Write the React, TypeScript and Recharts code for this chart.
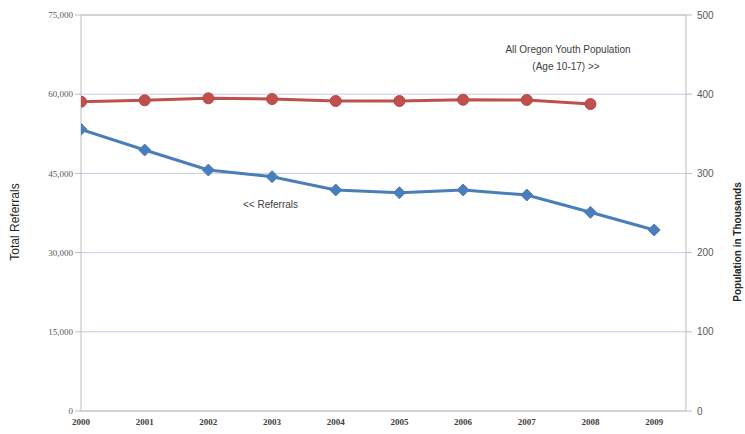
import React from "react";
import { LineChart, Line, XAxis, YAxis, CartesianGrid, ReferenceLine } from "recharts";

const years = [2000, 2001, 2002, 2003, 2004, 2005, 2006, 2007, 2008, 2009];
const referrals = [53350, 49430, 45640, 44380, 41860, 41340, 41860, 40910, 37630, 34280];
const population: (number | null)[] = [390.5, 392.3, 394.8, 393.9, 391.4, 391.4, 393, 392.7, 387.6, null];
const leftTicks = [0, 15000, 30000, 45000, 60000, 75000];
const rightTicks = [0, 100, 200, 300, 400, 500];

const data = years.map((year, i) => ({ year, referrals: referrals[i], population: population[i] }));

const W = 745;
const H = 434;

const Diamond = (props: any) => {
  const { cx, cy } = props;
  if (cx == null || cy == null) return null;
  const r = 6;
  return (
    <polygon
      key={`d-${cx}`}
      points={`${cx},${cy - r} ${cx + r},${cy} ${cx},${cy + r} ${cx - r},${cy}`}
      fill="#4a7ebb"
      stroke="#4a7ebb"
    />
  );
};

export default function App() {
  return (
    <div style={{ position: "absolute", left: 0, top: 0, width: W, height: H, background: "#fff" }}>
      <LineChart width={W} height={H} data={data} margin={{ top: 15, right: 0, bottom: 0, left: 0 }}>
        <CartesianGrid yAxisId="left" vertical={false} stroke="#c9cbe4" strokeWidth={1} />
        <XAxis
          dataKey="year"
          type="number"
          domain={[2000, 2009.5]}
          ticks={years}
          allowDataOverflow
          height={23}
          axisLine={{ stroke: "#bfbfbf" }}
          tickLine={false}
          tick={{ fontFamily: "Liberation Serif", fontSize: 9, fontWeight: "bold", fill: "#404040" }}
        />
        <YAxis
          yAxisId="left"
          domain={[0, 75000]}
          ticks={leftTicks}
          width={81}
          axisLine={{ stroke: "#bfbfbf" }}
          tickLine={{ stroke: "#bfbfbf" }}
          tickFormatter={(v: number) => v.toLocaleString("en-US")}
          tick={{ fontFamily: "Liberation Serif", fontSize: 9, fill: "#595959" }}
        />
        <YAxis
          yAxisId="right"
          orientation="right"
          domain={[0, 500]}
          ticks={rightTicks}
          width={59}
          axisLine={{ stroke: "#bfbfbf" }}
          tickLine={{ stroke: "#bfbfbf" }}
          tickMargin={5}
          tick={{ fontFamily: "Liberation Sans", fontSize: 10, fill: "#595959" }}
        />
        <ReferenceLine yAxisId="left" y={75000} stroke="#bfbfbf" />
        <Line
          yAxisId="right"
          dataKey="population"
          stroke="#c0504d"
          strokeWidth={3}
          dot={{ r: 5.5, fill: "#c0504d", stroke: "#b94744", strokeWidth: 1 }}
          isAnimationActive={false}
          connectNulls={false}
        />
        <Line
          yAxisId="left"
          dataKey="referrals"
          stroke="#4a7ebb"
          strokeWidth={3}
          dot={<Diamond />}
          isAnimationActive={false}
        />
      </LineChart>
      <svg
        width={W}
        height={H}
        style={{ position: "absolute", left: 0, top: 0, pointerEvents: "none" }}
      >
        <text
          x={19}
          y={222}
          transform="rotate(-90 19 222)"
          textAnchor="middle"
          fontFamily="Liberation Sans"
          fontSize={12}
          fill="#262626"
        >
          Total Referrals
        </text>
        <text
          x={741}
          y={242}
          transform="rotate(-90 741 242)"
          textAnchor="middle"
          fontFamily="Liberation Sans"
          fontSize={10}
          fontWeight="bold"
          fill="#262626"
        >
          Population in Thousands
        </text>
        <text x={568} y={53} textAnchor="middle" fontFamily="Liberation Sans" fontSize={10} fill="#404040">
          All Oregon Youth Population
        </text>
        <text x={566} y={70} textAnchor="middle" fontFamily="Liberation Sans" fontSize={10} fill="#404040">
          (Age 10-17)  &gt;&gt;
        </text>
        <text x={243} y={208} fontFamily="Liberation Sans" fontSize={10} fill="#404040">
          &lt;&lt; Referrals
        </text>
      </svg>
    </div>
  );
}
